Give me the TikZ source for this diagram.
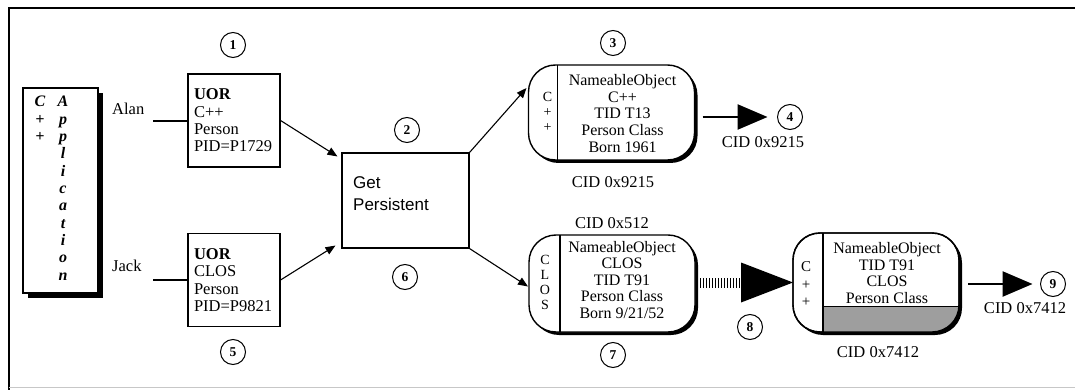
\documentclass[tikz,border=0pt]{standalone}
\usepackage{fontspec}
\setmainfont{Liberation Serif}
\newfontfamily\gpfont{Liberation Sans}
\usetikzlibrary{arrows.meta,calc,shadows}

\begin{document}
\begin{tikzpicture}[x=1pt,y=-1pt,
  txt/.style={inner sep=0pt, font=\fontsize{16.5}{17.5}\selectfont},
  appbox/.style={draw, line width=1.1pt, fill=white, minimum width=75pt, minimum height=205pt,
    drop shadow={shadow xshift=5pt, shadow yshift=-5pt, fill=black, opacity=1}},
  appletter/.style={inner sep=0pt, anchor=base, font=\fontsize{16}{17}\selectfont\bfseries\itshape},
  uor/.style={draw, line width=1.1pt, minimum width=92pt, minimum height=93pt, text width=80pt,
    align=left, inner xsep=6pt, inner ysep=0pt, font=\fontsize{16.5}{17.3}\selectfont},
  num/.style={draw, circle, line width=1pt, minimum size=25pt, inner sep=0pt,
    font=\fontsize{13.5}{13.5}\selectfont\bfseries},
  objbox/.style={draw, line width=1.4pt, rounded corners=27pt, fill=white, minimum width=166pt,
    outer sep=0pt, drop shadow={shadow xshift=3pt, shadow yshift=-3pt, fill=black, opacity=1}},
  body/.style={align=center, inner sep=0pt},
  side/.style={align=center, inner sep=0pt},
  flow/.style={line width=1.1pt, -{Triangle[length=10pt,width=8pt]}},
  bigflow/.style={line width=2.6pt, -{Triangle[length=30pt,width=25pt]}},
]
\useasboundingbox (0,0) rectangle (1075,390);

% outer frame
\draw[line width=2pt] (8.5,390) -- (8.5,8) -- (1075,8);
\draw[black!22, line width=1pt] (8.5,387.5) -- (1075,387.5);

% C++ application
\node[appbox] (app) at (60.5,190.5) {};
\foreach \ch [count=\i] in {A,p,p,l,i,c,a,t,i,o,n}
  \node[appletter] (ap\i) at (63,{107+17.3*(\i-1)}) {\ch};
\foreach \ch [count=\i] in {C,+,+}
  \node[appletter] (ac\i) at (40,{107+17.3*(\i-1)}) {\ch};

% references held by the application
\node[txt, anchor=base west] (alan) at (112,114.5) {Alan};
\node[txt, anchor=base west] (jack) at (112,271) {Jack};
\node[uor] (u1) at (234,120.5) {\textbf{UOR}\\C++\\Person\\PID=P1729};
\node[uor] (u2) at (234,280) {\textbf{UOR}\\CLOS\\Person\\PID=P9821};
\coordinate (alanL) at (153,121);
\coordinate (jackL) at (153,280);
\draw[line width=1.1pt] (alanL) -- (alanL -| u1.west);
\draw[line width=1.1pt] (jackL) -- (jackL -| u2.west);

% Get Persistent
\node[draw, line width=1.1pt, minimum width=127pt, minimum height=95pt] (gp) at (405.5,200.5) {};
\node[anchor=west, align=left, inner sep=0pt, font=\gpfont\fontsize{17}{22}\selectfont] (gptext)
  at (353,194) {Get\\Persistent};

% persistent objects
\node[objbox, minimum height=95pt] (b3) at (611.5,112.5) {};
\draw[line width=1.1pt] ($(b3.north west)+(29,0)$) -- ($(b3.south west)+(29,0)$);
\node[body, font=\fontsize{16}{16.8}\selectfont] (b3t) at ($(b3.west)+(94,1)$)
  {NameableObject\\C++\\TID T13\\Person Class\\Born 1961};
\node[side, font=\fontsize{14}{15}\selectfont] (b3s) at ($(b3.west)+(19,-1)$) {C\\+\\+};

\node[objbox, minimum height=97pt] (b7) at (612,283.5) {};
\draw[line width=1.1pt] ($(b7.north west)+(31,0)$) -- ($(b7.south west)+(31,0)$);
\node[body, font=\fontsize{16}{16.5}\selectfont] (b7t) at ($(b7.west)+(93,-3.5)$)
  {NameableObject\\CLOS\\TID T91\\Person Class\\Born 9/21/52};
\node[side, font=\fontsize{14}{15.2}\selectfont] (b7s) at ($(b7.west)+(16,-1)$) {C\\L\\O\\S};

\node[objbox, minimum height=99pt] (b9) at (876,282.5) {};
\begin{scope}
  \clip[rounded corners=27pt] (b9.south west) rectangle (b9.north east);
  \fill[black!38] ($(b9.south west)+(30,-26)$) rectangle (b9.south east);
  \draw[line width=1pt] ($(b9.south west)+(30,-26)$) -- ($(b9.south east)+(0,-26)$);
\end{scope}
\draw[line width=1.4pt, rounded corners=27pt] (b9.south west) rectangle (b9.north east);
\draw[line width=1.1pt] ($(b9.north west)+(30,0)$) -- ($(b9.south west)+(30,0)$);
\node[body, font=\fontsize{16}{16.7}\selectfont] (b9t) at ($(b9.west)+(94,-9.5)$)
  {NameableObject\\TID T91\\CLOS\\Person Class};
\node[side, font=\fontsize{15}{17.5}\selectfont] (b9s) at ($(b9.west)+(13,2)$) {C\\+\\+};

% step numbers
\node[num] (n1) at (233,45) {1};
\node[num] (n2) at (407,130) {2};
\node[num] (n3) at (613,43) {3};
\node[num] (n4) at (790,117) {4};
\node[num] (n5) at (233,352) {5};
\node[num] (n6) at (405,277) {6};
\node[num] (n7) at (613,355) {7};
\node[num] (n8) at (750,327) {8};
\node[num] (n9) at (1053,284) {9};

% class identifiers
\node[txt] (cid3) at (613,182) {CID 0x9215};
\node[txt] (cid4) at (763,142) {CID 0x9215};
\node[txt] (cid7) at (612,223) {CID 0x512};
\node[txt] (cid9) at (878,352) {CID 0x7412};
\node[txt] (cidr) at (1025,308) {CID 0x7412};

% flow of the requests
\draw[flow] (u1.east) -- ($(gp.north west)+(-4,4)$);
\draw[flow] (u2.east) -- ($(gp.south west)+(-6,-3)$);
\draw[flow] (gp.north east) -- ($(b3.west)+(-2,-24.5)$);
\draw[flow] (gp.south east) -- ($(b7.west)+(-1,3)$);

\draw[bigflow, shorten <=8pt, shorten >=9.5pt] (b3.east |- n4.west) -- (n4.west);
\draw[bigflow, shorten <=9pt, shorten >=7.5pt] (b9.east |- n9.west) -- (n9.west);

% conversion from CLOS to C++
\coordinate (h8) at ($(b7.east)+(46,-1)$);
\draw[line width=10pt, dash pattern=on 1.4pt off 1.6pt] ($(b7.east)+(5,-1)$) -- (h8);
\fill ($(h8)+(0,-20)$) -- (b9.west) -- ($(h8)+(0,20)$) -- cycle;
\end{tikzpicture}
\end{document}
